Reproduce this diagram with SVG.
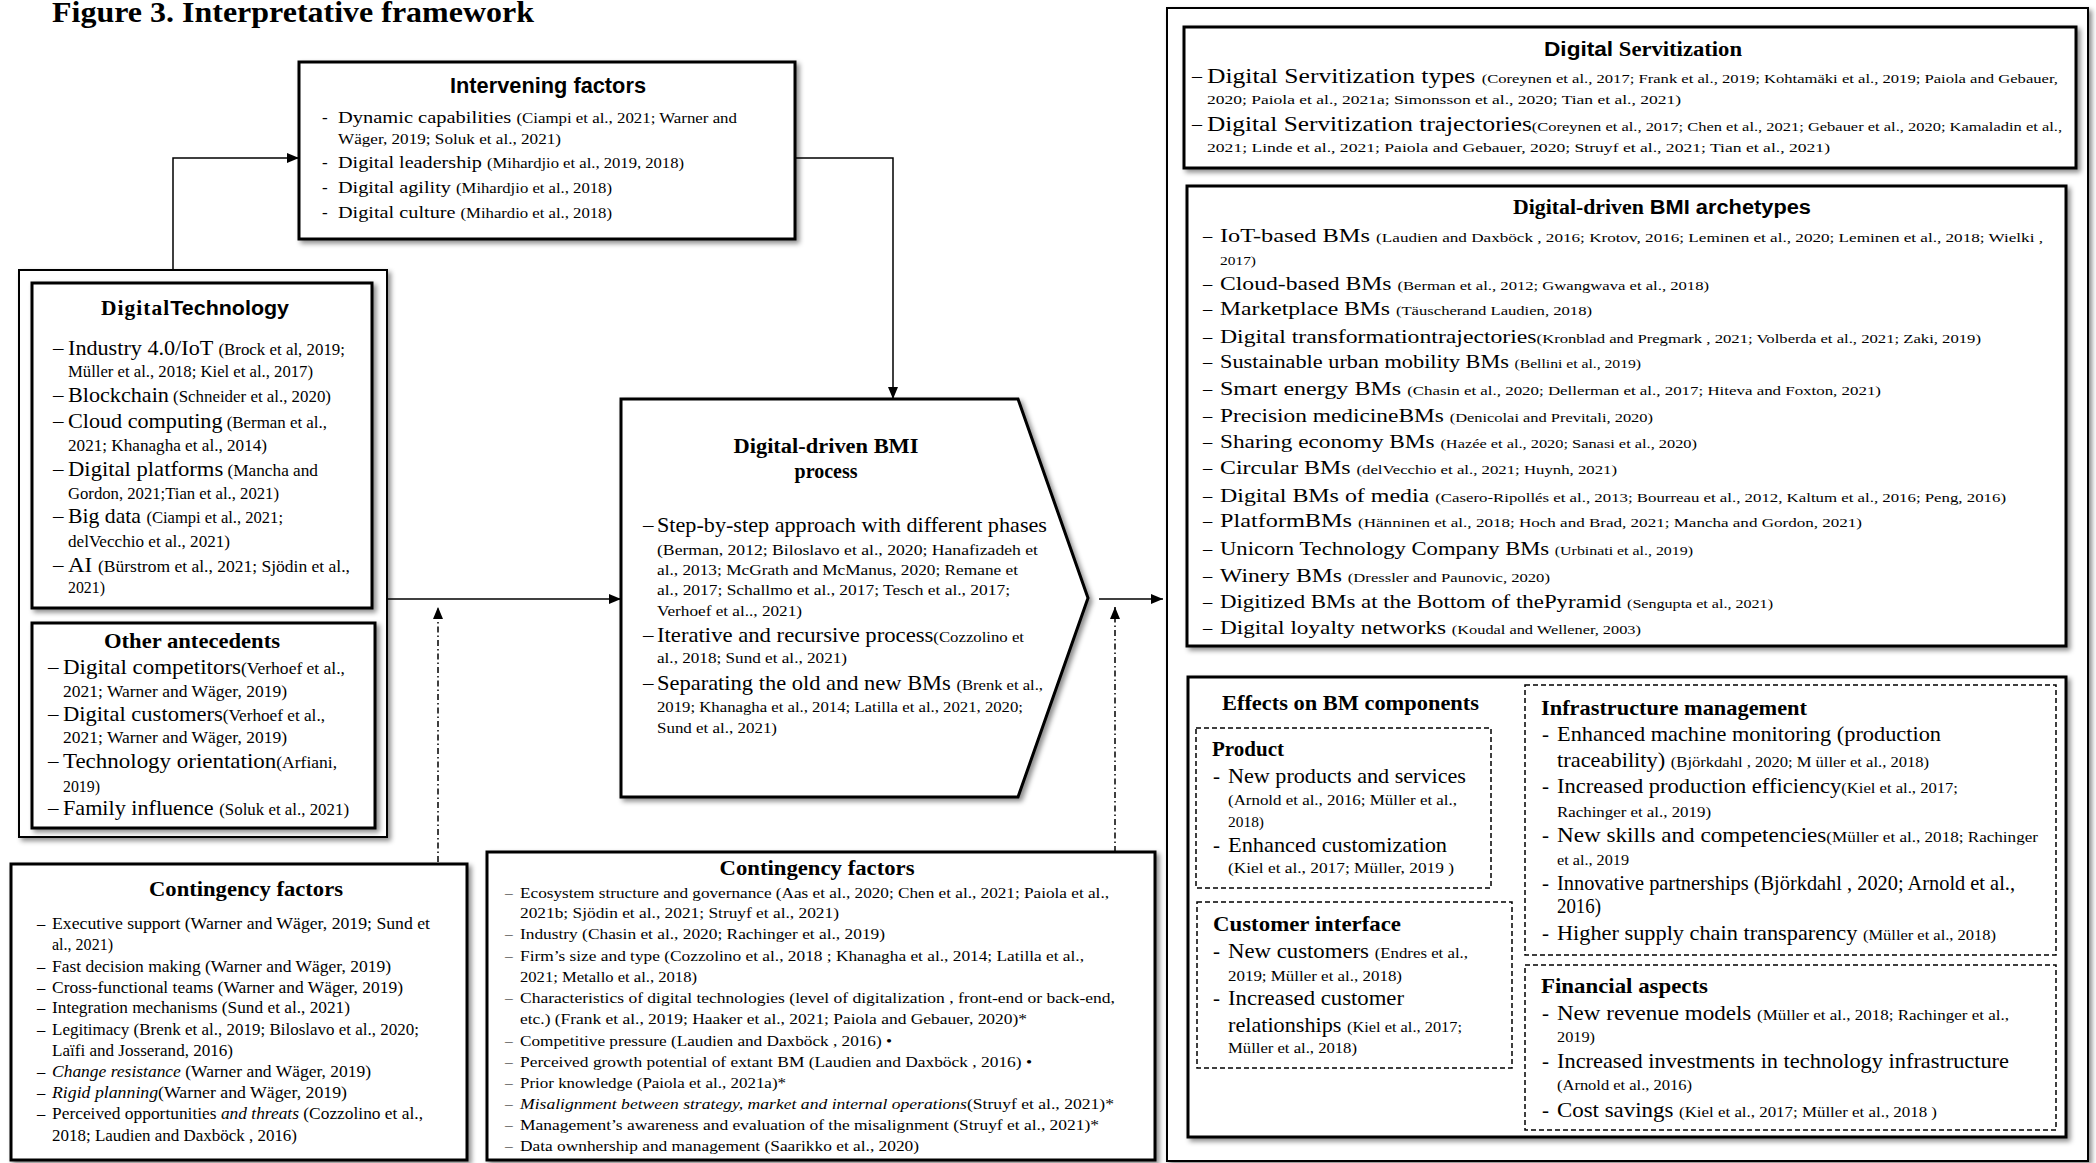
<svg xmlns="http://www.w3.org/2000/svg" width="2096" height="1163" viewBox="0 0 2096 1163">
<defs>
<style>
.t{font-family:"Liberation Serif","Times New Roman",serif;fill:#000}
.hs{font-family:"Liberation Sans",Arial,sans-serif;font-weight:bold}
.hb{font-weight:bold}
.it{font-style:italic}
.box{fill:#fff;stroke:#000;stroke-width:3;filter:url(#sh)}
.obox{fill:#fff;stroke:#000;stroke-width:2;filter:url(#sh)}
.dbox{fill:none;stroke:#000;stroke-width:1.5;stroke-dasharray:5 3}
.con{fill:none;stroke:#000;stroke-width:1.5}
.dd{stroke-dasharray:6 3 1.5 3}
.i1{font-size:17px}.i2{font-size:14px}
.d1{font-size:21px}.d2{font-size:16px}
.p2{font-size:15.5px}
.k1{font-size:16.5px}.k2{font-size:15.5px}
.v1{font-size:20px}.v2{font-size:13px}
.a1{font-size:18.5px}.a2{font-size:13px}
.e1{font-size:21px}.e2{font-size:15.5px}
</style>
<filter id="sh" x="-5%" y="-5%" width="112%" height="112%">
<feDropShadow dx="3" dy="3" stdDeviation="2.5" flood-color="#000" flood-opacity="0.45"/>
</filter>
<marker id="ah" markerUnits="userSpaceOnUse" markerWidth="12" markerHeight="10" refX="12" refY="5" orient="auto">
<path d="M0,0 L12,5 L0,10 z" fill="#000"/>
</marker>
</defs>
<rect x="0" y="0" width="2096" height="1163" fill="#fff"/>

<text class="t hb" x="52" y="22" font-size="29" textLength="482" lengthAdjust="spacingAndGlyphs">Figure 3. Interpretative framework</text>

<g id="intervening-factors">
<rect class="box" x="299" y="62" width="496" height="177"/>
<text class="hs" x="548" y="93" font-size="22" text-anchor="middle" textLength="196" lengthAdjust="spacingAndGlyphs">Intervening factors</text>
<g class="t i1">
<text x="322" y="123">-</text><text x="322" y="168">-</text><text x="322" y="193">-</text><text x="322" y="218">-</text>
<text x="338" y="123" textLength="399" lengthAdjust="spacingAndGlyphs">Dynamic capabilities <tspan class="i2">(Ciampi et al., 2021; Warner and</tspan></text>
<text x="338" y="144" class="i2" textLength="223" lengthAdjust="spacingAndGlyphs">Wäger, 2019;  Soluk et al., 2021)</text>
<text x="338" y="168" textLength="346" lengthAdjust="spacingAndGlyphs">Digital leadership <tspan class="i2">(Mihardjio et al., 2019, 2018)</tspan></text>
<text x="338" y="193" textLength="274" lengthAdjust="spacingAndGlyphs">Digital agility <tspan class="i2">(Mihardjio et al., 2018)</tspan></text>
<text x="338" y="218" textLength="274" lengthAdjust="spacingAndGlyphs">Digital culture <tspan class="i2">(Mihardio et al., 2018)</tspan></text>
</g>
</g>

<g id="antecedents">
<rect class="obox" x="19" y="270" width="368" height="567"/>
<g id="digital-technology">
<rect class="box" x="32" y="283" width="340" height="325"/>
<text x="101" y="315" font-size="20" textLength="188" lengthAdjust="spacingAndGlyphs"><tspan class="t hb" letter-spacing="1">Digital</tspan><tspan class="hs">Technology</tspan></text>
<g class="t d1">
<text x="53" y="355">–</text><text x="53" y="402">–</text><text x="53" y="428">–</text><text x="53" y="476">–</text><text x="53" y="523">–</text><text x="53" y="572">–</text>
<text x="68" y="355" textLength="277" lengthAdjust="spacingAndGlyphs">Industry 4.0/IoT <tspan class="d2">(Brock et al, 2019;</tspan></text>
<text x="68" y="377" class="d2" textLength="245" lengthAdjust="spacingAndGlyphs">Müller et al., 2018; Kiel et al., 2017)</text>
<text x="68" y="402" textLength="263" lengthAdjust="spacingAndGlyphs">Blockchain<tspan class="d2"> (Schneider et al., 2020)</tspan></text>
<text x="68" y="428" textLength="259" lengthAdjust="spacingAndGlyphs">Cloud computing<tspan class="d2"> (Berman et al.,</tspan></text>
<text x="68" y="451" class="d2" textLength="199" lengthAdjust="spacingAndGlyphs">2021;  Khanagha et al., 2014)</text>
<text x="68" y="476" textLength="250" lengthAdjust="spacingAndGlyphs">Digital platforms<tspan class="d2"> (Mancha and</tspan></text>
<text x="68" y="499" class="d2" textLength="211" lengthAdjust="spacingAndGlyphs">Gordon, 2021;Tian et al., 2021)</text>
<text x="68" y="523" textLength="215" lengthAdjust="spacingAndGlyphs">Big data <tspan class="d2">(Ciampi et al., 2021;</tspan></text>
<text x="68" y="547" class="d2" textLength="162" lengthAdjust="spacingAndGlyphs">delVecchio  et al., 2021)</text>
<text x="68" y="572" textLength="282" lengthAdjust="spacingAndGlyphs">AI <tspan class="d2">(Bürstrom et al., 2021;  Sjödin et al.,</tspan></text>
<text x="68" y="593" class="d2" textLength="37" lengthAdjust="spacingAndGlyphs">2021)</text>
</g>
</g>
<g id="other-antecedents">
<rect class="box" x="32" y="623" width="343" height="205"/>
<text class="t hb" x="104" y="648" font-size="21" textLength="176" lengthAdjust="spacingAndGlyphs">Other antecedents</text>
<g class="t d1">
<text x="48" y="674">–</text><text x="48" y="721">–</text><text x="48" y="768">–</text><text x="48" y="815">–</text>
<text x="63" y="674" textLength="282" lengthAdjust="spacingAndGlyphs">Digital competitors<tspan class="d2">(Verhoef  et al.,</tspan></text>
<text x="63" y="697" class="d2" textLength="224" lengthAdjust="spacingAndGlyphs">2021; Warner and  Wäger, 2019)</text>
<text x="63" y="721" textLength="262" lengthAdjust="spacingAndGlyphs">Digital customers<tspan class="d2">(Verhoef  et al.,</tspan></text>
<text x="63" y="743" class="d2" textLength="224" lengthAdjust="spacingAndGlyphs">2021; Warner and  Wäger, 2019)</text>
<text x="63" y="768" textLength="274" lengthAdjust="spacingAndGlyphs">Technology orientation<tspan class="d2">(Arfiani,</tspan></text>
<text x="63" y="792" class="d2" textLength="37" lengthAdjust="spacingAndGlyphs">2019)</text>
<text x="63" y="815" textLength="286" lengthAdjust="spacingAndGlyphs">Family influence <tspan class="d2">(Soluk et al., 2021)</tspan></text>
</g>
</g>
</g>

<g id="bmi-process">
<polygon class="box" points="621,399 1018,399 1088,598 1018,797 621,797"/>
<text class="t hb" x="826" y="453" font-size="20" text-anchor="middle" textLength="185" lengthAdjust="spacingAndGlyphs">Digital-driven BMI</text>
<text class="t hb" x="826" y="478" font-size="20" text-anchor="middle">process</text>
<g class="t d1">
<text x="643" y="532">–</text><text x="643" y="642">–</text><text x="643" y="690">–</text>
<text x="657" y="532" textLength="390" lengthAdjust="spacingAndGlyphs">Step-by-step approach with different phases</text>
<text x="657" y="555" class="p2" textLength="381" lengthAdjust="spacingAndGlyphs">(Berman, 2012; Biloslavo et al., 2020;     Hanafizadeh  et</text>
<text x="657" y="575" class="p2" textLength="361" lengthAdjust="spacingAndGlyphs">al., 2013; McGrath and   McManus, 2020; Remane et</text>
<text x="657" y="595" class="p2" textLength="353" lengthAdjust="spacingAndGlyphs">al., 2017;   Schallmo  et al., 2017;   Tesch et al., 2017;</text>
<text x="657" y="616" class="p2" textLength="145" lengthAdjust="spacingAndGlyphs">Verhoef  et al.., 2021)</text>
<text x="657" y="642" textLength="367" lengthAdjust="spacingAndGlyphs">Iterative and recursive process<tspan class="p2">(Cozzolino et</tspan></text>
<text x="657" y="663" class="p2" textLength="190" lengthAdjust="spacingAndGlyphs">al., 2018;   Sund et al., 2021)</text>
<text x="657" y="690" textLength="386" lengthAdjust="spacingAndGlyphs">Separating the old and new BMs <tspan class="p2">(Brenk et al.,</tspan></text>
<text x="657" y="712" class="p2" textLength="366" lengthAdjust="spacingAndGlyphs">2019;  Khanagha et al., 2014; Latilla et al., 2021, 2020;</text>
<text x="657" y="733" class="p2" textLength="120" lengthAdjust="spacingAndGlyphs">Sund et al., 2021)</text>
</g>
</g>

<g id="contingency-factors-1">
<rect class="box" x="11" y="864" width="456" height="296"/>
<text class="t hb" x="246" y="896" font-size="22" text-anchor="middle" textLength="194" lengthAdjust="spacingAndGlyphs">Contingency factors</text>
<g class="t k1">
<text x="37" y="929">–</text><text x="37" y="972">–</text><text x="37" y="993">–</text><text x="37" y="1013">–</text><text x="37" y="1035">–</text><text x="37" y="1077">–</text><text x="37" y="1098">–</text><text x="37" y="1119">–</text>
<text x="52" y="929" textLength="378" lengthAdjust="spacingAndGlyphs">Executive support (Warner and  Wäger, 2019;  Sund et</text>
<text x="52" y="950" textLength="61" lengthAdjust="spacingAndGlyphs">al., 2021)</text>
<text x="52" y="972" textLength="339" lengthAdjust="spacingAndGlyphs">Fast decision making (Warner and  Wäger, 2019)</text>
<text x="52" y="993" textLength="351" lengthAdjust="spacingAndGlyphs">Cross-functional teams (Warner and  Wäger, 2019)</text>
<text x="52" y="1013" textLength="298" lengthAdjust="spacingAndGlyphs">Integration mechanisms  (Sund et al., 2021)</text>
<text x="52" y="1035" textLength="367" lengthAdjust="spacingAndGlyphs">Legitimacy  (Brenk et al., 2019; Biloslavo et al., 2020;</text>
<text x="52" y="1056" textLength="181" lengthAdjust="spacingAndGlyphs">Laïfi  and Josserand, 2016)</text>
<text x="52" y="1077" textLength="319" lengthAdjust="spacingAndGlyphs"><tspan class="it">Change resistance</tspan> (Warner and  Wäger, 2019)</text>
<text x="52" y="1098" textLength="295" lengthAdjust="spacingAndGlyphs"><tspan class="it">Rigid planning</tspan>(Warner and  Wäger, 2019)</text>
<text x="52" y="1119" textLength="371" lengthAdjust="spacingAndGlyphs">Perceived opportunities <tspan class="it">and threats</tspan> (Cozzolino et al.,</text>
<text x="52" y="1141" textLength="245" lengthAdjust="spacingAndGlyphs">2018;  Laudien and Daxböck , 2016)</text>
</g>
</g>

<g id="contingency-factors-2">
<rect class="box" x="487" y="852" width="668" height="308"/>
<text class="t hb" x="817" y="875" font-size="22" text-anchor="middle" textLength="195" lengthAdjust="spacingAndGlyphs">Contingency factors</text>
<g class="t k2">
<text x="505" y="898">–</text><text x="505" y="939">–</text><text x="505" y="961">–</text><text x="505" y="1003">–</text><text x="505" y="1046">–</text><text x="505" y="1067">–</text><text x="505" y="1088">–</text><text x="505" y="1109">–</text><text x="505" y="1130">–</text><text x="505" y="1151">–</text>
<text x="520" y="898" textLength="589" lengthAdjust="spacingAndGlyphs">Ecosystem structure and governance (Aas et al., 2020; Chen et al., 2021; Paiola et al.,</text>
<text x="520" y="918" textLength="319" lengthAdjust="spacingAndGlyphs">2021b;  Sjödin et al., 2021;   Struyf et al., 2021)</text>
<text x="520" y="939" textLength="365" lengthAdjust="spacingAndGlyphs">Industry (Chasin et al., 2020;  Rachinger et al., 2019)</text>
<text x="520" y="961" textLength="564" lengthAdjust="spacingAndGlyphs">Firm’s  size and type (Cozzolino et al., 2018 ;    Khanagha et al., 2014; Latilla et al.,</text>
<text x="520" y="982" textLength="177" lengthAdjust="spacingAndGlyphs">2021; Metallo et al., 2018)</text>
<text x="520" y="1003" textLength="595" lengthAdjust="spacingAndGlyphs">Characteristics of digital technologies (level of digitalization , front-end or back-end,</text>
<text x="520" y="1024" textLength="507" lengthAdjust="spacingAndGlyphs">etc.) (Frank et al., 2019;   Haaker et al., 2021; Paiola and   Gebauer, 2020)*</text>
<text x="520" y="1046" textLength="372" lengthAdjust="spacingAndGlyphs">Competitive pressure (Laudien and Daxböck , 2016) •</text>
<text x="520" y="1067" textLength="512" lengthAdjust="spacingAndGlyphs">Perceived growth potential of extant BM (Laudien and Daxböck , 2016) •</text>
<text x="520" y="1088" textLength="266" lengthAdjust="spacingAndGlyphs">Prior knowledge (Paiola et al., 2021a)*</text>
<text x="520" y="1109" textLength="594" lengthAdjust="spacingAndGlyphs"><tspan class="it">Misalignment between strategy, market and internal operations</tspan>(Struyf et al., 2021)*</text>
<text x="520" y="1130" textLength="579" lengthAdjust="spacingAndGlyphs">Management’s awareness and evaluation of the misalignment (Struyf et al., 2021)*</text>
<text x="520" y="1151" textLength="399" lengthAdjust="spacingAndGlyphs">Data ownhership and management (Saarikko  et al., 2020)</text>
</g>
</g>

<g id="outcomes">
<rect class="obox" x="1167" y="8" width="921" height="1153"/>
<g id="digital-servitization">
<rect class="box" x="1184" y="27" width="892" height="141"/>
<text x="1643" y="56" font-size="20" text-anchor="middle" textLength="198" lengthAdjust="spacingAndGlyphs"><tspan class="hs">Digital</tspan><tspan class="t hb"> Servitization</tspan></text>
<g class="t v1">
<text x="1192" y="83">–</text><text x="1192" y="131">–</text>
<text x="1207" y="83" textLength="851" lengthAdjust="spacingAndGlyphs">Digital Servitization types <tspan class="v2">(Coreynen et al., 2017; Frank et al., 2019;    Kohtamäki  et al., 2019; Paiola and   Gebauer,</tspan></text>
<text x="1207" y="104" class="v2" textLength="474" lengthAdjust="spacingAndGlyphs">2020; Paiola et al., 2021a;    Simonsson et al., 2020;   Tian et al., 2021)</text>
<text x="1207" y="131" textLength="855" lengthAdjust="spacingAndGlyphs">Digital Servitization trajectories<tspan class="v2">(Coreynen et al., 2017; Chen et al., 2021;    Gebauer et al., 2020;  Kamaladin  et al.,</tspan></text>
<text x="1207" y="152" class="v2" textLength="623" lengthAdjust="spacingAndGlyphs">2021; Linde et al., 2021; Paiola and    Gebauer, 2020;  Struyf et al., 2021;   Tian et al., 2021)</text>
</g>
</g>
<g id="bmi-archetypes">
<rect class="box" x="1187" y="186" width="879" height="460"/>
<text x="1513" y="214" font-size="20" textLength="298" lengthAdjust="spacingAndGlyphs"><tspan class="t hb">Digital-driven</tspan><tspan class="hs"> BMI archetypes</tspan></text>
<g class="t a1">
<text x="1203" y="242">–</text><text x="1203" y="290">–</text><text x="1203" y="315">–</text><text x="1203" y="343">–</text><text x="1203" y="368">–</text><text x="1203" y="395">–</text><text x="1203" y="422">–</text><text x="1203" y="448">–</text><text x="1203" y="474">–</text><text x="1203" y="502">–</text><text x="1203" y="527">–</text><text x="1203" y="555">–</text><text x="1203" y="582">–</text><text x="1203" y="608">–</text><text x="1203" y="634">–</text>
<text x="1220" y="242" textLength="823" lengthAdjust="spacingAndGlyphs">IoT-based BMs <tspan class="a2">(Laudien and Daxböck , 2016;  Krotov, 2016;  Leminen  et al., 2020;  Leminen  et al., 2018;  Wielki ,</tspan></text>
<text x="1220" y="265" class="a2" textLength="36" lengthAdjust="spacingAndGlyphs">2017)</text>
<text x="1220" y="290" textLength="489" lengthAdjust="spacingAndGlyphs">Cloud-based BMs <tspan class="a2">(Berman et al., 2012;   Gwangwava  et al., 2018)</tspan></text>
<text x="1220" y="315" textLength="372" lengthAdjust="spacingAndGlyphs">Marketplace BMs <tspan class="a2">(Täuscherand Laudien, 2018)</tspan></text>
<text x="1220" y="343" textLength="761" lengthAdjust="spacingAndGlyphs">Digital transformationtrajectories<tspan class="a2">(Kronblad and Pregmark , 2021;  Volberda  et al., 2021; Zaki, 2019)</tspan></text>
<text x="1220" y="368" textLength="421" lengthAdjust="spacingAndGlyphs">Sustainable urban mobility BMs <tspan class="a2">(Bellini et al., 2019)</tspan></text>
<text x="1220" y="395" textLength="661" lengthAdjust="spacingAndGlyphs">Smart energy BMs <tspan class="a2">(Chasin et al., 2020;  Dellerman  et al., 2017;  Hiteva and Foxton, 2021)</tspan></text>
<text x="1220" y="422" textLength="433" lengthAdjust="spacingAndGlyphs">Precision medicineBMs <tspan class="a2">(Denicolai and Previtali, 2020)</tspan></text>
<text x="1220" y="448" textLength="477" lengthAdjust="spacingAndGlyphs">Sharing economy BMs <tspan class="a2">(Hazée et al., 2020;  Sanasi et al., 2020)</tspan></text>
<text x="1220" y="474" textLength="397" lengthAdjust="spacingAndGlyphs">Circular BMs <tspan class="a2">(delVecchio  et al., 2021;  Huynh, 2021)</tspan></text>
<text x="1220" y="502" textLength="786" lengthAdjust="spacingAndGlyphs">Digital BMs of media <tspan class="a2">(Casero-Ripollés  et al., 2013;  Bourreau et al., 2012,  Kaltum et al., 2016; Peng, 2016)</tspan></text>
<text x="1220" y="527" textLength="642" lengthAdjust="spacingAndGlyphs">PlatformBMs <tspan class="a2">(Hänninen et al., 2018;  Hoch and Brad, 2021; Mancha and Gordon, 2021)</tspan></text>
<text x="1220" y="555" textLength="473" lengthAdjust="spacingAndGlyphs">Unicorn Technology Company  BMs <tspan class="a2">(Urbinati et al., 2019)</tspan></text>
<text x="1220" y="582" textLength="330" lengthAdjust="spacingAndGlyphs">Winery BMs <tspan class="a2">(Dressler and Paunovic, 2020)</tspan></text>
<text x="1220" y="608" textLength="553" lengthAdjust="spacingAndGlyphs">Digitized BMs at the Bottom of thePyramid <tspan class="a2">(Sengupta et al., 2021)</tspan></text>
<text x="1220" y="634" textLength="421" lengthAdjust="spacingAndGlyphs">Digital loyalty networks <tspan class="a2">(Koudal and Wellener, 2003)</tspan></text>
</g>
</g>
<g id="effects-bm-components">
<rect class="box" x="1188" y="677" width="878" height="460"/>
<text class="t hb" x="1222" y="710" font-size="21" textLength="257" lengthAdjust="spacingAndGlyphs">Effects on BM components</text>
<g id="product">
<rect class="dbox" x="1196" y="728" width="295" height="160"/>
<text class="t hb" x="1212" y="756" font-size="21">Product</text>
<g class="t e1">
<text x="1213" y="783">-</text><text x="1213" y="852">-</text>
<text x="1228" y="783" textLength="238" lengthAdjust="spacingAndGlyphs">New products and services</text>
<text x="1228" y="805" class="e2" textLength="229" lengthAdjust="spacingAndGlyphs">(Arnold et al., 2016; Müller et al.,</text>
<text x="1228" y="827" class="e2" textLength="36" lengthAdjust="spacingAndGlyphs">2018)</text>
<text x="1228" y="852" textLength="219" lengthAdjust="spacingAndGlyphs">Enhanced customization</text>
<text x="1228" y="873" class="e2" textLength="226" lengthAdjust="spacingAndGlyphs">(Kiel et al., 2017; Müller, 2019    )</text>
</g>
</g>
<g id="customer-interface">
<rect class="dbox" x="1197" y="902" width="315" height="166"/>
<text class="t hb" x="1213" y="931" font-size="21" textLength="188" lengthAdjust="spacingAndGlyphs">Customer interface</text>
<g class="t e1">
<text x="1213" y="958">-</text><text x="1213" y="1005">-</text>
<text x="1228" y="958" textLength="240" lengthAdjust="spacingAndGlyphs">New customers <tspan class="e2">(Endres et al.,</tspan></text>
<text x="1228" y="981" class="e2" textLength="174" lengthAdjust="spacingAndGlyphs">2019;  Müller et al., 2018)</text>
<text x="1228" y="1005" textLength="176" lengthAdjust="spacingAndGlyphs">Increased customer</text>
<text x="1228" y="1032" textLength="234" lengthAdjust="spacingAndGlyphs">relationships <tspan class="e2">(Kiel et al., 2017;</tspan></text>
<text x="1228" y="1053" class="e2" textLength="129" lengthAdjust="spacingAndGlyphs">Müller et al., 2018)</text>
</g>
</g>
<g id="infrastructure-management">
<rect class="dbox" x="1525" y="685" width="531" height="270"/>
<text class="t hb" x="1541" y="715" font-size="21" textLength="266" lengthAdjust="spacingAndGlyphs">Infrastructure management</text>
<g class="t e1">
<text x="1542" y="741">-</text><text x="1542" y="793">-</text><text x="1542" y="842">-</text><text x="1542" y="890">-</text><text x="1542" y="940">-</text>
<text x="1557" y="741" textLength="384" lengthAdjust="spacingAndGlyphs">Enhanced machine monitoring (production</text>
<text x="1557" y="767" textLength="372" lengthAdjust="spacingAndGlyphs">traceability) <tspan class="e2">(Björkdahl , 2020; M üller et al., 2018)</tspan></text>
<text x="1557" y="793" textLength="401" lengthAdjust="spacingAndGlyphs">Increased production efficiency<tspan class="e2">(Kiel et al., 2017;</tspan></text>
<text x="1557" y="817" class="e2" textLength="154" lengthAdjust="spacingAndGlyphs">Rachinger et al., 2019)</text>
<text x="1557" y="842" textLength="481" lengthAdjust="spacingAndGlyphs">New skills and competencies<tspan class="e2">(Müller et al., 2018;   Rachinger</tspan></text>
<text x="1557" y="865" class="e2" textLength="72" lengthAdjust="spacingAndGlyphs">et al., 2019</text>
<text x="1557" y="890" textLength="458" lengthAdjust="spacingAndGlyphs">Innovative partnerships  (Björkdahl , 2020; Arnold et al.,</text>
<text x="1557" y="913" textLength="44" lengthAdjust="spacingAndGlyphs">2016)</text>
<text x="1557" y="940" textLength="439" lengthAdjust="spacingAndGlyphs">Higher supply chain transparency <tspan class="e2">(Müller et al., 2018)</tspan></text>
</g>
</g>
<g id="financial-aspects">
<rect class="dbox" x="1525" y="965" width="531" height="165"/>
<text class="t hb" x="1541" y="993" font-size="21" textLength="167" lengthAdjust="spacingAndGlyphs">Financial aspects</text>
<g class="t e1">
<text x="1542" y="1020">-</text><text x="1542" y="1068">-</text><text x="1542" y="1117">-</text>
<text x="1557" y="1020" textLength="452" lengthAdjust="spacingAndGlyphs">New revenue models <tspan class="e2">(Müller et al., 2018;   Rachinger et al.,</tspan></text>
<text x="1557" y="1042" class="e2" textLength="38" lengthAdjust="spacingAndGlyphs">2019)</text>
<text x="1557" y="1068" textLength="452" lengthAdjust="spacingAndGlyphs">Increased investments in technology infrastructure</text>
<text x="1557" y="1090" class="e2" textLength="135" lengthAdjust="spacingAndGlyphs">(Arnold et al., 2016)</text>
<text x="1557" y="1117" textLength="380" lengthAdjust="spacingAndGlyphs">Cost savings <tspan class="e2">(Kiel et al., 2017; Müller et al., 2018    )</tspan></text>
</g>
</g>
</g>
</g>

<g id="connectors">
<path class="con" d="M173,270 V158 H299" marker-end="url(#ah)"/>
<path class="con" d="M795,158 H893 V399" marker-end="url(#ah)"/>
<path class="con" d="M387,599 H621" marker-end="url(#ah)"/>
<path class="con" d="M1099,599 H1163" marker-end="url(#ah)"/>
<path class="con dd" d="M438,862 V607" marker-end="url(#ah)"/>
<path class="con dd" d="M1115,852 V607" marker-end="url(#ah)"/>
</g>
</svg>
